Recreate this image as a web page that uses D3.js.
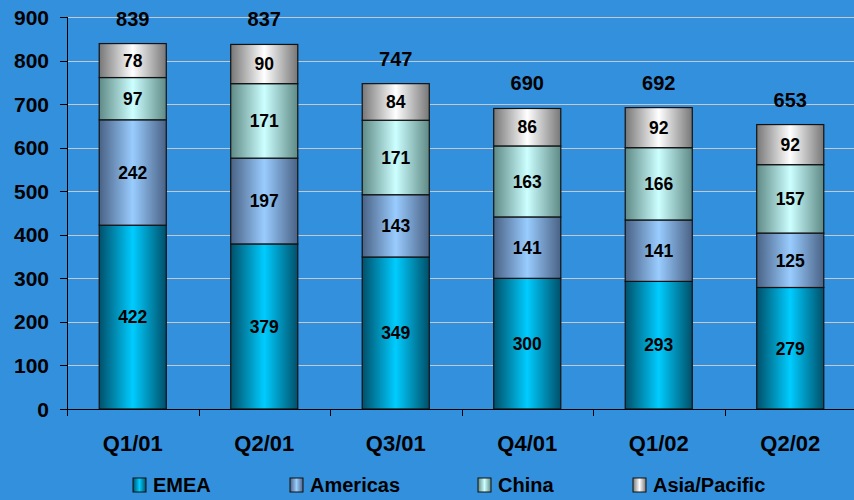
<!DOCTYPE html>
<html>
<head>
<meta charset="utf-8">
<script src="https://cdn.jsdelivr.net/npm/d3@7"></script>
<style>
    html, body { margin: 0; padding: 0; background: #3390dd; }
    svg { display: block; font-family: Arial, "Liberation Sans", sans-serif; font-weight: bold; }
</style>
</head>
<body>
<div id="chart"></div>
<script>
const _WIDTH = 854
const _HEIGHT = 500
const _MARGIN = { top: 17, left: 67, bottom: 91, right: -2 }

// Data
// ===================================
const quarters = ["Q1/01", "Q2/01", "Q3/01", "Q4/01", "Q1/02", "Q2/02"]
const emea = [422, 379, 349, 300, 293, 279]
const americas = [242, 197, 143, 141, 141, 125]
const china = [97, 171, 171, 163, 166, 157]
const asiaPacific = [78, 90, 84, 86, 92, 92]
const yTicks = [0, 100, 200, 300, 400, 500, 600, 700, 800, 900]

const seriesNames = ["EMEA", "Americas", "China", "Asia/Pacific"]
const seriesColors = [
    { id: "g-emea", edge: "#00506a", mid: "#00ccff" },
    { id: "g-americas", edge: "#4a6285", mid: "#99ccff" },
    { id: "g-china", edge: "#5f8a86", mid: "#ccffff" },
    { id: "g-asia", edge: "#777777", mid: "#ffffff" },
]
const legendX = [133, 290, 478, 633]

const rows = quarters.map((q, i) => ({
    quarter: q,
    "EMEA": emea[i],
    "Americas": americas[i],
    "China": china[i],
    "Asia/Pacific": asiaPacific[i],
}))

const svg = d3
    .select("#chart")
    .append("svg")
    .attr("width", _WIDTH)
    .attr("height", _HEIGHT)

// Gradients
// ===================================
const defs = svg.append("defs")
seriesColors.forEach(c => {
    const g = defs.append("linearGradient")
        .attr("id", c.id)
        .attr("x1", "0%").attr("x2", "100%")
        .attr("y1", "0%").attr("y2", "0%")
    g.append("stop").attr("offset", "0%").attr("stop-color", c.edge)
    g.append("stop").attr("offset", "50%").attr("stop-color", c.mid)
    g.append("stop").attr("offset", "100%").attr("stop-color", c.edge)
})

const plotW = _WIDTH - _MARGIN.left - _MARGIN.right
const plotH = _HEIGHT - _MARGIN.top - _MARGIN.bottom

const xScale = d3.scaleBand().domain(quarters).range([0, plotW]).paddingInner(0.49).paddingOuter(0.245)
const xBound = d3.scaleBand().domain(quarters).range([0, plotW])
const yScale = d3.scaleLinear().domain([0, 900]).range([plotH, 0])

const chart = svg.append("g")
    .attr("transform", `translate(${_MARGIN.left},${_MARGIN.top})`)

// Gridlines
// ===================================
chart.append("g")
    .selectAll("line")
    .data(yTicks.filter(d => d > 0))
    .join("line")
    .attr("x1", 0)
    .attr("x2", plotW)
    .attr("y1", d => Math.round(yScale(d)) + 0.5)
    .attr("y2", d => Math.round(yScale(d)) + 0.5)
    .attr("stroke", "#c4c8d0")
    .attr("stroke-width", 1)

// Stacked bars
// ===================================
const stacked = d3.stack().keys(seriesNames)(rows)

const layers = chart.append("g")
    .selectAll("g")
    .data(stacked)
    .join("g")
    .attr("fill", (d, i) => `url(#${seriesColors[i].id})`)

layers.selectAll("rect")
    .data(d => d)
    .join("rect")
    .attr("x", d => xScale(d.data.quarter))
    .attr("y", d => yScale(d[1]))
    .attr("width", xScale.bandwidth())
    .attr("height", d => yScale(d[0]) - yScale(d[1]))
    .attr("stroke", "#111")
    .attr("stroke-width", 1.2)

layers.selectAll("text")
    .data(d => d)
    .join("text")
    .attr("x", d => xScale(d.data.quarter) + xScale.bandwidth() / 2)
    .attr("y", d => (yScale(d[0]) + yScale(d[1])) / 2)
    .attr("dy", "0.36em")
    .attr("text-anchor", "middle")
    .attr("font-size", 17.5)
    .attr("fill", "#000")
    .text(d => d[1] - d[0])

// Totals
chart.append("g")
    .selectAll("text")
    .data(rows)
    .join("text")
    .attr("x", d => xScale(d.quarter) + xScale.bandwidth() / 2)
    .attr("y", d => yScale(d.EMEA + d.Americas + d.China + d["Asia/Pacific"]) - 18)
    .attr("text-anchor", "middle")
    .attr("font-size", 20)
    .attr("fill", "#000")
    .text(d => d.EMEA + d.Americas + d.China + d["Asia/Pacific"])

// Axes
// ===================================
const yAxis = chart.append("g")
yAxis.append("line")
    .attr("x1", 0.5).attr("x2", 0.5)
    .attr("y1", 0).attr("y2", plotH + 7)
    .attr("stroke", "#000")
yAxis.selectAll("line.tick")
    .data(yTicks)
    .join("line")
    .attr("class", "tick")
    .attr("x1", -7).attr("x2", 0)
    .attr("y1", d => Math.round(yScale(d)) + 0.5)
    .attr("y2", d => Math.round(yScale(d)) + 0.5)
    .attr("stroke", "#000")
yAxis.selectAll("text")
    .data(yTicks)
    .join("text")
    .attr("x", -18)
    .attr("y", d => yScale(d))
    .attr("dy", "0.36em")
    .attr("text-anchor", "end")
    .attr("font-size", 21)
    .attr("fill", "#000")
    .text(d => d)

const xAxis = chart.append("g")
xAxis.append("line")
    .attr("x1", 0).attr("x2", plotW)
    .attr("y1", plotH + 0.5).attr("y2", plotH + 0.5)
    .attr("stroke", "#000")
xAxis.selectAll("line.tick")
    .data(quarters.slice(1))
    .join("line")
    .attr("class", "tick")
    .attr("x1", d => Math.round(xBound(d)) + 0.5)
    .attr("x2", d => Math.round(xBound(d)) + 0.5)
    .attr("y1", plotH).attr("y2", plotH + 7)
    .attr("stroke", "#000")
xAxis.selectAll("text")
    .data(quarters)
    .join("text")
    .attr("x", d => xScale(d) + xScale.bandwidth() / 2)
    .attr("y", plotH + 34)
    .attr("dy", "0.36em")
    .attr("text-anchor", "middle")
    .attr("font-size", 22)
    .attr("fill", "#000")
    .text(d => d)

// Legend
// ===================================
const legend = svg.append("g")
    .selectAll("g")
    .data(seriesNames)
    .join("g")
    .attr("transform", (d, i) => `translate(${legendX[i]},478)`)
legend.append("rect")
    .attr("width", 13)
    .attr("height", 14)
    .attr("fill", (d, i) => `url(#${seriesColors[i].id})`)
    .attr("stroke", "#111")
legend.append("text")
    .attr("x", 20)
    .attr("y", 7)
    .attr("dy", "0.36em")
    .attr("font-size", 20)
    .attr("fill", "#000")
    .text(d => d)
</script>
</body>
</html>
